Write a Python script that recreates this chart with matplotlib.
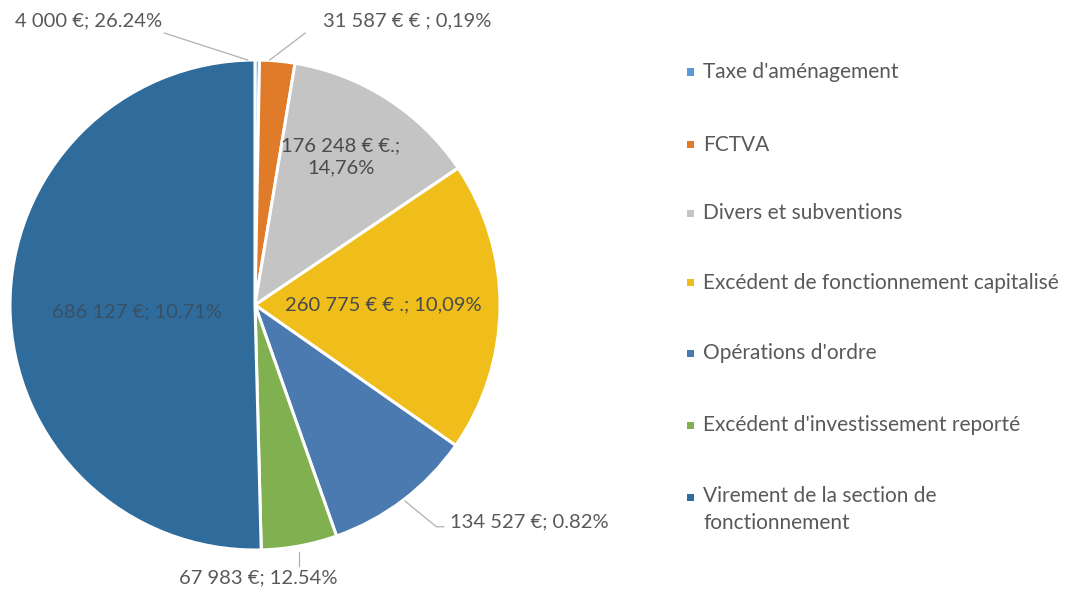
import matplotlib
matplotlib.use("Agg")
import matplotlib.pyplot as plt
import numpy as np

categories = ["Taxe d'aménagement", "FCTVA", "Divers et subventions",
              "Excédent de fonctionnement capitalisé", "Opérations d'ordre",
              "Excédent d'investissement reporté",
              "Virement de la section de\nfonctionnement"]
values = [4000, 31587, 176248, 260775, 134527, 67983, 686127]
value_labels = ["4 000 €; 26.24%", "31 587 € € ; 0,19%", "176 248 € €.;\n14,76%",
                "260 775 € € .; 10,09%", "134 527 €; 0.82%", "67 983 €; 12.54%",
                "686 127 €; 10.71%"]

colors = ["#5b9bd5", "#e07b2a", "#c4c4c4", "#f0be1a", "#4a7aaf", "#80b050", "#2f6c9c"]

plt.rcParams['font.family'] = ['Lato', 'DejaVu Sans']

fig = plt.figure(figsize=(10.76, 5.92), dpi=100)
fig.patch.set_facecolor("white")

W, H = 1076, 592
cx, cy, R = 255, 305, 245
ax = fig.add_axes([(cx - R) / W, 1 - (cy + R) / H, 2 * R / W, 2 * R / H])
wedges, _ = ax.pie(values, colors=colors, startangle=90, counterclock=False,
                   wedgeprops=dict(edgecolor="white", linewidth=2.2))
ax.set_xlim(-1, 1)
ax.set_ylim(-1, 1)
ax.set_aspect("equal")
ax.axis("off")

label_color = "#595959"
inner_color = "#4a4a4a"
fs = 14.5
leg_fs = 15

# label placement (text position, leader line points, colour)
placements = [
    dict(xy=(-0.68, 1.16), line=[(-0.37, 1.11), (-0.03, 1.0)], c=label_color),
    dict(xy=(0.62, 1.16), line=[(0.205, 1.11), (0.06, 1.0)], c=label_color),
    dict(xy=(0.35, 0.605), line=None, c=inner_color),
    dict(xy=(0.525, -0.0), line=None, c=inner_color),
    dict(xy=(1.12, -0.885), line=[(0.612, -0.80), (0.74, -0.905), (0.77, -0.905)], c=label_color),
    dict(xy=(0.012, -1.112), line=[(0.18, -1.01), (0.18, -1.065)], c=label_color),
    dict(xy=(-0.48, -0.03), line=None, c="#3b4f63"),
]
for lab, p in zip(value_labels, placements):
    ax.text(p["xy"][0], p["xy"][1], lab, ha="center", va="center", fontsize=fs,
            color=p["c"], linespacing=1.4, clip_on=False)
    if p["line"]:
        xs, ys = zip(*p["line"])
        ax.plot(xs, ys, color="#b0b0b0", lw=0.9, clip_on=False)

# legend
leg_y = [72, 145, 213, 283, 353, 425, 497]
for lab, col, y in zip(categories, colors, leg_y):
    fig.patches.append(plt.Rectangle(((690 - 3.5) / W, 1 - (y + 3.5) / H), 7 / W, 7 / H,
                                     transform=fig.transFigure, facecolor=col,
                                     edgecolor="none"))
    if "\n" in lab:
        fig.text(703 / W, 1 - (y - 11) / H, lab, ha="left", va="top",
                 fontsize=leg_fs, color=label_color, linespacing=1.45)
    else:
        fig.text(703 / W, 1 - y / H, lab, ha="left", va="center",
                 fontsize=leg_fs, color=label_color)

fig.savefig("out.png", dpi=100, facecolor="white")
